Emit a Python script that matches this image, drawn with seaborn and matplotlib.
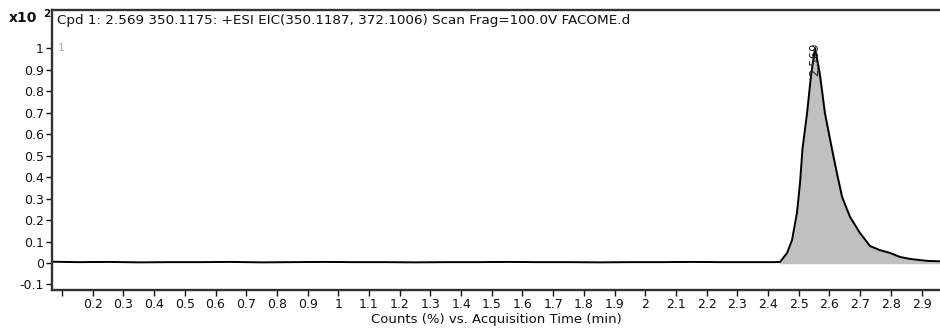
import numpy as np
import pandas as pd
import matplotlib
matplotlib.use("Agg")
import matplotlib.pyplot as plt
import seaborn as sns

# Baseline
base_time = [0.067, 0.15, 0.25, 0.35, 0.45, 0.55, 0.65, 0.75, 0.85, 0.95, 1.05, 1.15, 1.25,
             1.35, 1.45, 1.55, 1.65, 1.75, 1.85, 1.95, 2.05, 2.15, 2.25, 2.35, 2.42]
base_val = [0.006, 0.004, 0.005, 0.003, 0.004, 0.004, 0.005, 0.003, 0.004, 0.005, 0.004, 0.004, 0.003,
            0.004, 0.004, 0.005, 0.004, 0.004, 0.003, 0.004, 0.004, 0.005, 0.004, 0.004, 0.004]
# Peak region
peak_time = [2.439, 2.462, 2.478, 2.494, 2.504, 2.512, 2.527, 2.540, 2.553, 2.569, 2.585, 2.608,
             2.624, 2.641, 2.667, 2.699, 2.732, 2.764, 2.797, 2.830, 2.862, 2.918, 2.96]
peak_val = [0.005, 0.047, 0.107, 0.233, 0.372, 0.530, 0.698, 0.874, 1.000, 0.874, 0.698, 0.530,
            0.419, 0.307, 0.214, 0.140, 0.079, 0.060, 0.047, 0.028, 0.019, 0.010, 0.008]

peak_label = "2.569"
peak_label_x = 2.553
title = "Cpd 1: 2.569 350.1175: +ESI EIC(350.1187, 372.1006) Scan Frag=100.0V FACOME.d"
xlabel = "Counts (%) vs. Acquisition Time (min)"

xticks = [0.1] + [round(0.2 + 0.1 * i, 1) for i in range(28)]
xticklabels = [""] + [("%g" % t) for t in xticks[1:]]
yticks = [round(-0.1 + 0.1 * i, 1) for i in range(12)]
yticklabels = [("%g" % t) for t in yticks]

df = pd.DataFrame({"time": base_time + peak_time, "val": base_val + peak_val})

sns.set_style("white")
plt.rcParams["font.family"] = ["DejaVu Sans"]

fig = plt.figure(figsize=(9.4, 3.29), dpi=100)
ax = fig.add_axes([52 / 940, 1 - 290 / 329, 1 - 52 / 940, (290 - 10) / 329])

ax.fill_between(peak_time, 0, peak_val, color="#c0c0c0", zorder=1)
sns.lineplot(data=df, x="time", y="val", ax=ax, color="black", lw=1.4, zorder=2, sort=True)

ax.set_xlim(0.0674, 2.96)
ax.set_ylim(-0.1256, 1.177)
ax.set_xticks(xticks)
ax.set_xticklabels(xticklabels)
ax.set_yticks(yticks)
ax.set_yticklabels(yticklabels)
ax.tick_params(axis="both", direction="out", length=4, width=1, labelsize=9,
               colors="#111111", pad=2, bottom=True, left=True)
ax.set_xlabel(xlabel, fontsize=9.5, labelpad=1, color="#111111")
ax.set_ylabel("")

for side in ["left", "top", "bottom"]:
    ax.spines[side].set_visible(True)
    ax.spines[side].set_linewidth(1.7)
    ax.spines[side].set_color("#333333")
ax.spines["right"].set_visible(False)

ax.text(0.006, 0.985, title, transform=ax.transAxes, ha="left", va="top",
        fontsize=9.7, color="#111111")
ax.text(0.085, 1.0, "1", ha="left", va="center", fontsize=8, color="#aaaaaa")
ax.text(peak_label_x, 1.028, peak_label, rotation=90, ha="center", va="top",
        fontsize=8.5, color="#222222")

fig.text(9 / 940, 1 - 18 / 329, "x10", ha="left", va="center", fontsize=10,
         fontweight="bold", color="#111111")
fig.text(43 / 940, 1 - 14 / 329, "2", ha="left", va="center", fontsize=7.5,
         fontweight="bold", color="#111111")

fig.savefig("out.png", dpi=100)
